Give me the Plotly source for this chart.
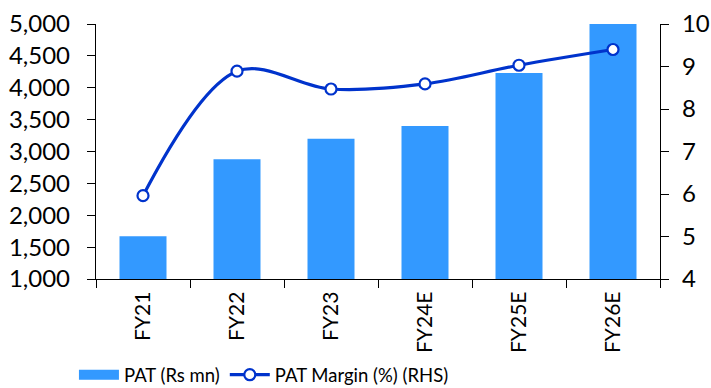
import plotly.graph_objects as go

# Annual PAT and margin, actuals and estimates
years = ["FY21", "FY22", "FY23", "FY24E", "FY25E", "FY26E"]
pat_rs_mn = [1670, 2880, 3200, 3400, 4230, 5000]
pat_margin_pct = [5.96, 8.89, 8.47, 8.59, 9.03, 9.40]

BAR_COLOR = "#3399FF"
LINE_COLOR = "#0033CC"
FONT = "Lato"

fig = go.Figure()

fig.add_trace(go.Bar(
    x=years, y=pat_rs_mn, name="PAT (Rs mn)",
    marker=dict(color=BAR_COLOR, line=dict(width=0)),
    width=0.5, yaxis="y", showlegend=False,
))

# legend entry for the bars drawn as a wide block swatch
fig.add_trace(go.Scatter(
    x=[None], y=[None], name="PAT (Rs mn)", mode="lines",
    line=dict(color=BAR_COLOR, width=15), hoverinfo="skip", legendrank=1,
))

fig.add_trace(go.Scatter(
    x=years, y=pat_margin_pct, name="PAT Margin (%) (RHS)",
    mode="lines+markers",
    line=dict(color=LINE_COLOR, width=3.2, shape="spline", smoothing=1),
    marker=dict(symbol="circle", size=11, color="white",
                line=dict(color=LINE_COLOR, width=2.2)),
    yaxis="y2", legendrank=2,
))

axis_common = dict(
    showline=True, linecolor="black", linewidth=1.3,
    ticks="outside", ticklen=8, tickwidth=1.3, tickcolor="black",
    showgrid=False, zeroline=False, automargin=False,
)

fig.update_layout(
    width=711, height=388,
    margin=dict(l=96, r=51, t=24, b=109),
    paper_bgcolor="white", plot_bgcolor="white",
    font=dict(family=FONT, color="black"),
    bargap=0.5,
    xaxis=dict(
        **axis_common, tickson="boundaries", tickangle=-90,
        tickfont=dict(size=21, family=FONT), ticklabelstandoff=3,
    ),
    yaxis=dict(
        **axis_common, range=[1000, 5000], dtick=500, tickformat=",",
        tickfont=dict(size=24, family=FONT), ticklabelstandoff=12,
    ),
    yaxis2=dict(
        **axis_common, range=[4, 10], dtick=1, overlaying="y", side="right",
        tickfont=dict(size=24, family=FONT), ticklabelstandoff=8,
    ),
    legend=dict(
        orientation="h", xref="container", x=0.104, xanchor="left",
        yref="container", y=0.033, yanchor="middle",
        font=dict(size=18.5, family=FONT), itemwidth=40,
        tracegroupgap=0, bgcolor="rgba(0,0,0,0)",
    ),
    showlegend=True,
)

fig.write_html("out.html")
